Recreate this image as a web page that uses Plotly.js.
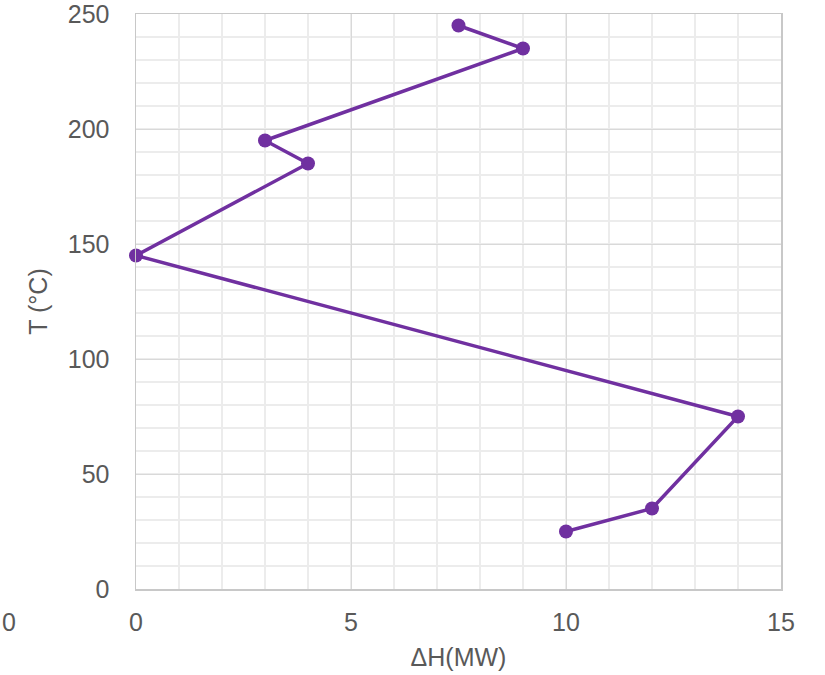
<!DOCTYPE html>
<html>
<head>
<meta charset="utf-8">
<script src="https://cdn.plot.ly/plotly-3.0.1.min.js"></script>
<style>html,body{margin:0;padding:0;background:#fff;}#chart{width:825px;height:675px;}</style>
</head>
<body>
<div id="chart"></div>
<script>
const deltaH = [7.5, 9, 3, 4, 0, 14, 12, 10];
const temperature = [245, 235, 195, 185, 145, 75, 35, 25];
const xTicks = [0, 5, 10, 15];
const yTicks = [0, 50, 100, 150, 200, 250];

const trace = {
  x: deltaH,
  y: temperature,
  type: 'scatter',
  mode: 'lines+markers',
  line: {color: '#7030A0', width: 3.5},
  marker: {color: '#7030A0', size: 14},
  cliponaxis: false,
  hoverinfo: 'skip'
};

const font = {family: 'Liberation Sans, Arial, sans-serif', size: 25, color: '#595959'};

const layout = {
  width: 825, height: 675,
  margin: {l: 136, r: 44, t: 14, b: 86},
  paper_bgcolor: '#ffffff', plot_bgcolor: '#ffffff',
  showlegend: false,
  font: font,
  xaxis: {
    range: [0, 15], tickvals: xTicks, ticktext: xTicks.map(String),
    showgrid: true, gridcolor: '#d9d9d9', gridwidth: 1,
    minor: {dtick: 1, showgrid: true, gridcolor: '#ececec', gridwidth: 1.5},
    showline: true, linecolor: '#c8c8c8', linewidth: 1.5, mirror: true,
    zeroline: false, ticks: '', ticklabelstandoff: 10, ticklabeloverflow: 'allow',
    tickfont: font,
    title: {text: 'ΔH(MW)', font: font, standoff: 14}
  },
  yaxis: {
    range: [0, 250], tickvals: yTicks, ticktext: yTicks.map(String),
    showgrid: true, gridcolor: '#d9d9d9', gridwidth: 1,
    minor: {dtick: 10, showgrid: true, gridcolor: '#ececec', gridwidth: 1.5},
    showline: true, linecolor: '#c8c8c8', linewidth: 1.5, mirror: true,
    zeroline: false, ticks: '', ticklabelstandoff: 20, ticklabeloverflow: 'allow',
    tickfont: font,
    title: {text: 'T (°C)', font: font, standoff: 13}
  },
  annotations: [{
    text: '0', xref: 'paper', yref: 'paper', x: -136/645, y: -33/575,
    xanchor: 'left', yanchor: 'middle', showarrow: false, font: font
  }]
};

Plotly.newPlot('chart', [trace], layout, {displayModeBar: false, staticPlot: true});
</script>
</body>
</html>
